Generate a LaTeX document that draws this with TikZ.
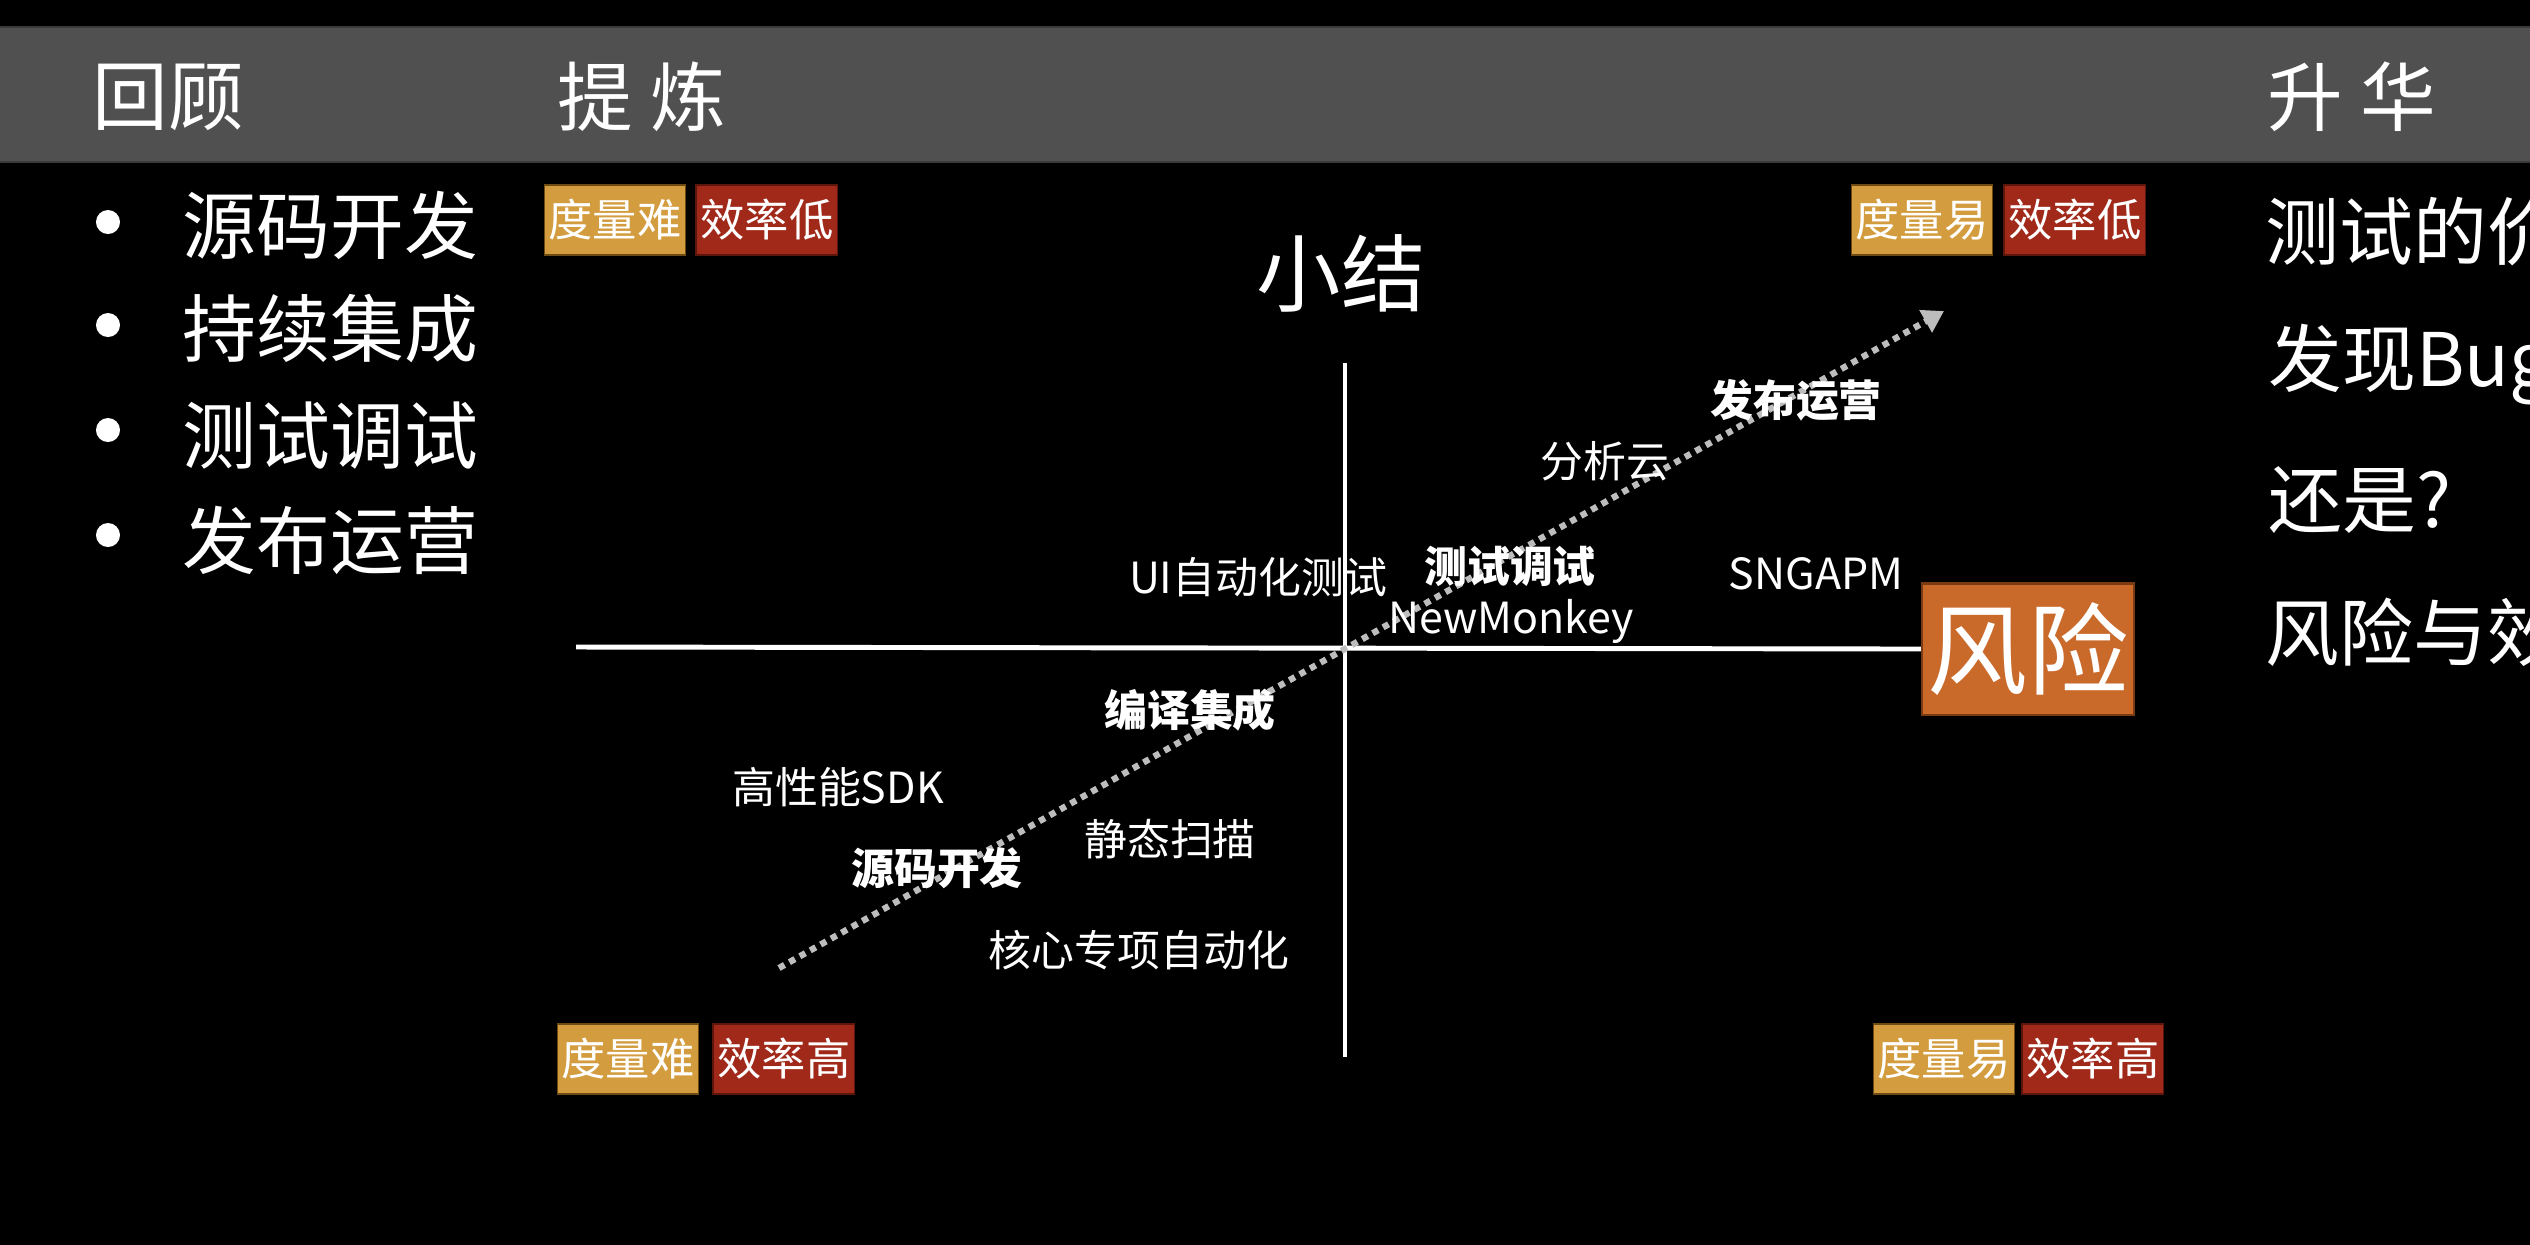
\documentclass[tikz,border=0pt]{standalone}
\usepackage{fontspec}
\setmainfont{Noto Sans CJK SC}
\usetikzlibrary{arrows.meta, positioning}
\definecolor{bandG}{HTML}{505050}
\definecolor{bandE}{HTML}{3A3A3A}
\definecolor{tagO}{HTML}{D39C3E}
\definecolor{tagOd}{HTML}{6E4A14}
\definecolor{tagR}{HTML}{A0291A}
\definecolor{tagRd}{HTML}{5C160C}
\definecolor{riskO}{HTML}{C96A2B}
\definecolor{riskOd}{HTML}{7A3A12}
\definecolor{dotG}{HTML}{BDBDBD}

\begin{document}
\begin{tikzpicture}[
  x=0.01cm, y=-0.01cm,
  hdr/.style={
    anchor=west, inner sep=0pt,
    text=white, font=\fontsize{21.5}{25}\selectfont
  },
  item/.style={
    anchor=west, inner sep=0pt,
    text=white, font=\fontsize{21}{25}\selectfont
  },
  bul/.style={circle, fill=white, minimum size=0.24cm, inner sep=0pt},
  tag/.style={
    fill=#1, text=white,
    font=\fontsize{12.6}{15}\selectfont,
    minimum width=1.41cm, minimum height=0.70cm,
    inner sep=0pt, line width=0.5pt
  },
  hardtag/.style={tag=tagO, draw=tagOd},
  efftag/.style={tag=tagR, draw=tagRd},
  risk/.style={
    fill=riskO, draw=riskOd, text=white,
    font=\fontsize{28.5}{32}\selectfont,
    minimum width=2.12cm, minimum height=1.31cm,
    inner sep=0pt, line width=0.6pt
  },
  lbl/.style={inner sep=0pt, text=white!92, font=\fontsize{12.2}{14}\selectfont},
  stage/.style={inner sep=0pt, text=white, font=\fontsize{12.2}{14}\selectfont\bfseries},
  axis/.style={draw=white!94, line width=1.4pt},
  trend/.style={
    draw=dotG, line width=1.8pt, dash pattern=on 1.8pt off 1.6pt,
    -{Triangle[length=6pt, width=7pt]}
  },
]

\useasboundingbox (0,0) rectangle (2530,1244);
\fill[black] (-20,-20) rectangle (2550,1264);

%% --- header band ---
\path[fill=bandG, draw=bandE, line width=0.8pt] (-10,27) rectangle (2540,162);
\node[hdr] (hReview) at (92,97) {回顾};
\node[hdr] (hRefine) at (557,97) {提 炼};
\node[hdr] (hSublim) at (2267,97) {升 华};

%% --- review list ---
\node[bul] (b1) at (108,222) {};
\node[item] (i1) at (182,225) {源码开发};
\node[bul] (b2) at (108,325) {};
\node[item] (i2) at (182,329) {持续集成};
\node[bul] (b3) at (108,430) {};
\node[item] (i3) at (182,436) {测试调试};
\node[bul] (b4) at (108,535) {};
\node[item] (i4) at (182,540) {发布运营};

%% --- corner tags ---
\node[hardtag] (tlH) at (615,220) {度量难};
\node[efftag, right=0.09cm of tlH] (tlE) {效率低};
\node[hardtag] (trH) at (1922,220) {度量易};
\node[efftag, right=0.10cm of trH] (trE) {效率低};
\node[hardtag] (blH) at (628,1059) {度量难};
\node[efftag, right=0.13cm of blH] (blE) {效率高};
\node[hardtag] (brH) at (1944,1059) {度量易};
\node[efftag, right=0.06cm of brH] (brE) {效率高};

%% --- quadrant ---
\node[inner sep=0pt, text=white, font=\fontsize{24}{28}\selectfont] (sum) at (1341,273) {小结};
\node[risk] (risk) at (2028,649) {风险};

\coordinate (hL) at (576,647);
\draw[axis] (hL) -- (risk.west);
\coordinate (vT) at (1345,363);
\coordinate (vB) at (1345,1057);
\draw[axis] (vT) -- (vB);

\coordinate (tr0) at (779,968);
\coordinate (tr1) at (1944,311);
\draw[trend] (tr0) -- (tr1);

%% --- stages and tools ---
\node[stage] (sRel) at (1796,400) {发布运营};
\node[lbl] (tCloud) at (1605,461) {分析云};
\node[stage] (sTest) at (1510,566) {测试调试};
\node[lbl] (tUI) at (1258,577) {UI自动化测试};
\node[lbl] (tMonkey) at (1511,621) {NewMonkey};
\node[lbl] (tApm) at (1816,574) {SNGAPM};
\node[stage] (sBuild) at (1190,710) {编译集成};
\node[lbl] (tSdk) at (838,787) {高性能SDK};
\node[stage] (sCode) at (937,868) {源码开发};
\node[lbl] (tScan) at (1170,839) {静态扫描};
\node[lbl] (tCore) at (1139,950) {核心专项自动化};

%% --- sublimation ---
\node[item] (r1) at (2265,232) {测试的价};
\node[item] (r2) at (2268,365) {发现Bug};
\node[item] (r3) at (2268,500) {还是?};
\node[item] (r4) at (2265,632) {风险与效};

\end{tikzpicture}
\end{document}
